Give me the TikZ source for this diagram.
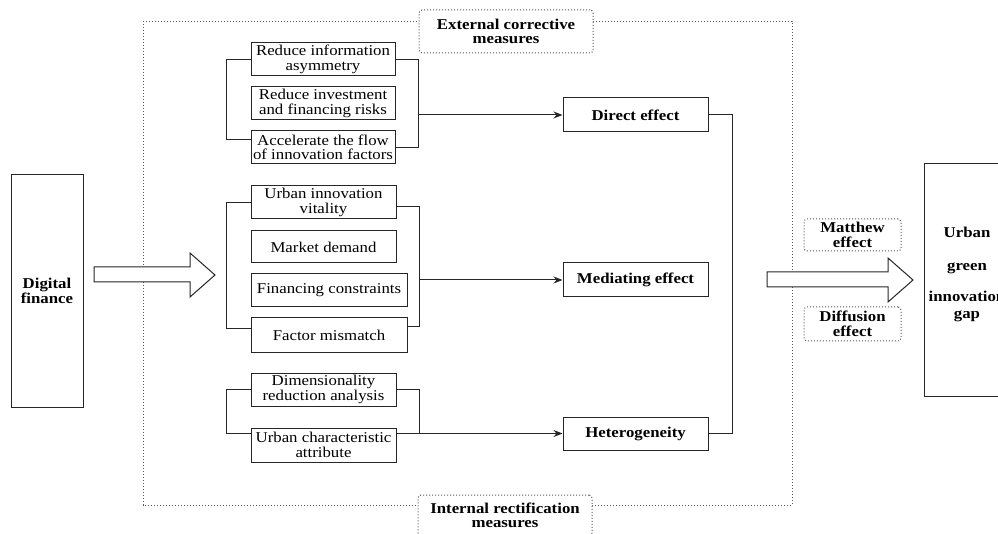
\documentclass[tikz,border=0pt]{standalone}
\usepackage{fontspec}
\setmainfont{Liberation Serif}[FakeStretch=1.12]
\usetikzlibrary{arrows.meta}
\begin{document}
\begin{tikzpicture}[x=1pt,y=-1pt,
  ln/.style={line width=1pt, draw=black!85},
  bx/.style={ln, rectangle, inner sep=0pt, align=center, fill=white, font=\fontsize{15}{14.5}\selectfont},
  bbx/.style={bx, font=\fontsize{15}{14.5}\selectfont\bfseries},
  dbx/.style={draw=black!65, line width=1pt, dotted, rounded corners=3pt, fill=white, inner sep=0pt, align=center, font=\fontsize{15}{14.5}\selectfont\bfseries},
  arr/.style={ln, -{Stealth[length=9pt,width=7pt]}},
  blk/.style={ln, line join=miter, fill=white},
]
\useasboundingbox (0,0) rectangle (998,534);
\clip (0,0) rectangle (998,534);

% outer dotted frame
\draw[draw=black!65, line width=0.9pt, dash pattern=on 1.2pt off 1.8pt] (143,21) rectangle (792,505);

% frame labels
\node[dbx, minimum width=174pt, minimum height=43pt] (ext) at (506,31.5) {External corrective\\measures};
\node[dbx, minimum width=174pt, minimum height=41pt] (int) at (505,515.5) {Internal rectification\\measures};

% left and right main boxes
\node[bbx, minimum width=72pt, minimum height=232pt] (df) at (47,291) {Digital\\finance};
\node[ln, rectangle, inner sep=0pt, minimum width=88pt, minimum height=232pt] (ug) at (968,280) {};
\node[align=center, font=\fontsize{15}{14.5}\selectfont\bfseries] (ugt) at (967,274) {Urban\\[18.5pt]green\\[16.5pt]innovation\\[2.5pt]gap};

% group 1
\node[bx, minimum width=144pt, minimum height=33pt] (g1a) at (323,59.5) {Reduce information\\asymmetry};
\node[bx, minimum width=144pt, minimum height=33pt] (g1b) at (323,103.5) {Reduce investment\\and financing risks};
\node[bx, minimum width=144pt, minimum height=33pt] (g1c) at (323,147.5) {Accelerate the flow\\of innovation factors};

% group 2
\node[bx, minimum width=145pt, minimum height=33pt] (g2a) at (323.5,202.5) {Urban innovation\\vitality};
\node[bx, minimum width=145pt, minimum height=32pt] (g2b) at (323.5,247) {Market demand};
\node[bx, minimum width=156pt, minimum height=33pt] (g2c) at (329,290.5) {Financing constraints};
\node[bx, minimum width=156pt, minimum height=34pt] (g2d) at (329,335) {Factor mismatch};

% group 3
\node[bx, minimum width=145pt, minimum height=33pt] (g3a) at (323.5,389.5) {Dimensionality\\reduction analysis};
\node[bx, minimum width=145pt, minimum height=34pt] (g3b) at (323.5,445) {Urban characteristic\\attribute};

% effects
\node[bbx, minimum width=145pt, minimum height=34pt] (de) at (635.5,115) {Direct effect};
\node[bbx, minimum width=145pt, minimum height=34pt] (me) at (635.5,280) {Mediating effect};
\node[bbx, minimum width=145pt, minimum height=33pt] (het) at (635.5,433.5) {Heterogeneity};

% Matthew / Diffusion
\node[dbx, minimum width=97pt, minimum height=32pt] (mat) at (852.5,235) {Matthew\\effect};
\node[dbx, minimum width=97pt, minimum height=34pt] (dif) at (852.5,324) {Diffusion\\effect};

% block arrows
\draw[blk] (94,267) -- (190,267) -- (190,253) -- (215,275) -- (190,297) -- (190,282) -- (94,282) -- cycle;
\draw[blk] (767,272) -- (888,272) -- (888,258) -- (913,280) -- (888,302) -- (888,287) -- (767,287) -- cycle;

% group 1 brackets
\draw[ln] (g1a.west) -- ++(-24,0) |- ([yshift=8pt]g1c.west);
\draw[ln] (g1a.east) -- ++(23,0) coordinate (r1) |- (g1c.east);
\draw[arr] (r1 |- de.west) -- (de.west);

% group 2 brackets
\draw[ln] (g2a.west) -- ++(-24,0) |- ([yshift=6pt]g2d.west);
\draw[ln] ([yshift=-4pt]g2a.east) -- ++(23,0) coordinate (r2) |- ([yshift=8pt]g2d.east);
\draw[arr] (r2 |- me.west) -- (me.west);

% group 3 brackets
\draw[ln] (g3a.west) -- ++(-24,0) |- (g3b.west |- het.west);
\draw[ln] (g3a.east) -- ++(23,0) coordinate (r3) |- (het.west -| r3);
\draw[arr] (g3b.east |- het.west) -- (het.west);

% right collector
\draw[ln] (de.east) -- ++(24,0) |- (het.east);
\end{tikzpicture}
\end{document}
